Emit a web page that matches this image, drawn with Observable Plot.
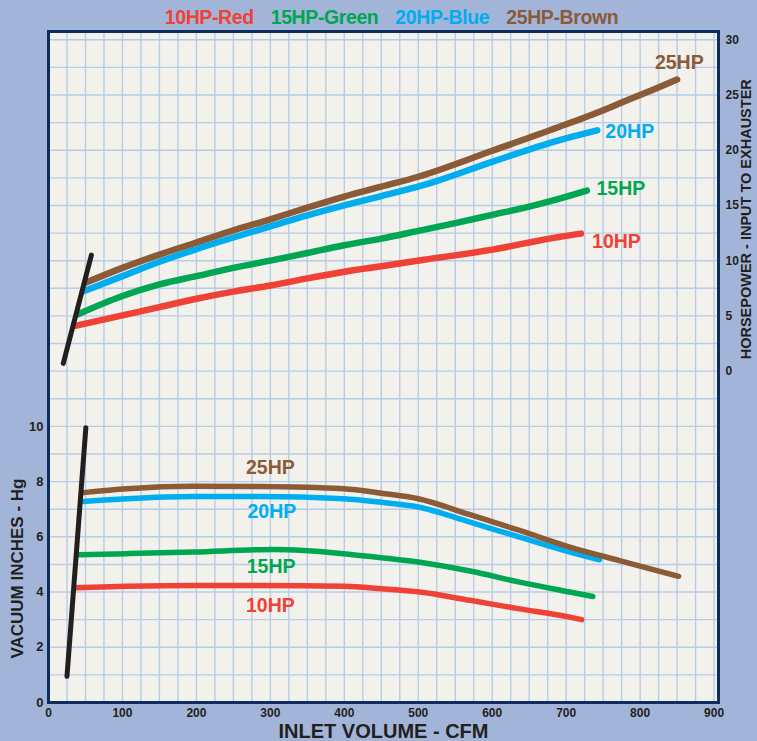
<!DOCTYPE html>
<html>
<head>
<meta charset="utf-8">
<script src="https://cdn.jsdelivr.net/npm/d3@7"></script>
<script src="https://cdn.jsdelivr.net/npm/@observablehq/plot@0.6"></script>
<style>
  html, body { margin: 0; padding: 0; background: #a2b5d9; }
  body { width: 757px; height: 741px; overflow: hidden; font-family: "Liberation Sans", Arial, Helvetica, sans-serif; }
  #legend { height: 28px; box-sizing: border-box; padding-top: 7px; padding-left: 26px; display: flex; justify-content: center; gap: 17px;
            font-size: 19.5px; line-height: 20px; font-weight: bold; letter-spacing: -0.4px; }
  #chart svg text { font-weight: bold; }
</style>
</head>
<body>
<div id="legend"></div>
<div id="chart"></div>
<script>
// ---- series identity ----
const seriesNames  = ["10HP", "15HP", "20HP", "25HP"];
const legendLabels = ["10HP-Red", "15HP-Green", "20HP-Blue", "25HP-Brown"];
const seriesColors = ["#ef4136", "#00a651", "#00aeef", "#8b5a36"];

// ---- upper chart: horsepower vs inlet volume (CFM) ----
const hp10cfm = [36, 100, 150, 200, 250, 300, 350, 400, 450, 510, 600, 690, 720];
const hp10val = [4.1, 5.05, 5.8, 6.55, 7.2, 7.75, 8.4, 9.0, 9.5, 10.1, 11.0, 12.15, 12.45];
const hp15cfm = [40, 100, 150, 200, 250, 300, 350, 400, 450, 500, 550, 600, 650, 690, 728];
const hp15val = [5.15, 6.8, 7.85, 8.6, 9.35, 10.0, 10.7, 11.4, 12.0, 12.7, 13.4, 14.15, 14.9, 15.6, 16.35];
const hp20cfm = [48, 100, 150, 200, 250, 300, 350, 400, 450, 510, 600, 690, 742];
const hp20val = [7.25, 8.6, 9.9, 11.05, 12.1, 13.1, 14.1, 15.0, 15.85, 16.9, 18.95, 20.9, 21.8];
const hp25cfm = [50, 100, 150, 200, 250, 300, 350, 400, 450, 500, 600, 690, 740, 780, 820, 850];
const hp25val = [8.0, 9.35, 10.55, 11.65, 12.75, 13.75, 14.8, 15.8, 16.7, 17.6, 19.95, 22.1, 23.35, 24.45, 25.55, 26.4];

// ---- lower chart: vacuum (inches Hg) vs inlet volume (CFM) ----
const vac10cfm = [36, 106, 196, 286, 399, 450, 502, 570, 637, 705, 721];
const vac10val = [4.16, 4.21, 4.24, 4.24, 4.21, 4.12, 4.0, 3.7, 3.39, 3.09, 3.0];
const vac15cfm = [40, 106, 196, 304, 399, 450, 502, 570, 637, 705, 736];
const vac15val = [5.35, 5.39, 5.45, 5.54, 5.39, 5.24, 5.08, 4.76, 4.36, 4.0, 3.84];
const vac20cfm = [47, 106, 196, 286, 399, 450, 500, 570, 637, 705, 745];
const vac20val = [7.28, 7.38, 7.46, 7.46, 7.38, 7.25, 7.08, 6.53, 5.99, 5.45, 5.17];
const vac25cfm = [47, 106, 196, 286, 399, 450, 500, 570, 637, 705, 772, 852];
const vac25val = [7.6, 7.74, 7.83, 7.82, 7.74, 7.58, 7.38, 6.8, 6.23, 5.63, 5.14, 4.57];

// ---- black reference strokes ----
const hpRefCfm  = [20, 58];
const hpRefVal  = [0.7, 10.5];
const vacRefCfm = [25, 50.5];
const vacRefVal = [0.95, 9.95];

// ---- curve labels ----
const hpLabelCfm  = [735, 741, 753, 820];
const hpLabelVal  = [11.7, 16.5, 21.7, 27.95];
const vacLabelCfm = [300, 301, 302, 300];
const vacLabelVal = [3.52, 4.93, 6.92, 8.51];

// ---- ticks ----
const xTicks   = [0, 100, 200, 300, 400, 500, 600, 700, 800, 900];
const vacTicks = [0, 2, 4, 6, 8, 10];
const hpTicks  = [0, 5, 10, 15, 20, 25, 30];

// horsepower is drawn on the shared vertical scale: 0 HP sits at 12 vacuum units, 2.5 HP per unit
const hpToY = h => 12 + h / 2.5;

// legend
const legend = document.getElementById("legend");
legendLabels.forEach((t, i) => {
  const s = document.createElement("span");
  s.textContent = t; s.style.color = seriesColors[i];
  legend.appendChild(s);
});

const hpSeries = [
  [hp10cfm, hp10val], [hp15cfm, hp15val], [hp20cfm, hp20val], [hp25cfm, hp25val]
].flatMap(([xs, ys], i) => xs.map((x, j) => ({series: seriesNames[i], cfm: x, hp: ys[j]})));
const vacSeries = [
  [vac10cfm, vac10val], [vac15cfm, vac15val], [vac20cfm, vac20val], [vac25cfm, vac25val]
].flatMap(([xs, ys], i) => xs.map((x, j) => ({series: seriesNames[i], cfm: x, vac: ys[j]})));
const hpRef = hpRefCfm.map((x, j) => ({cfm: x, hp: hpRefVal[j]}));
const vacRef = vacRefCfm.map((x, j) => ({cfm: x, vac: vacRefVal[j]}));
const hpLabels = seriesNames.map((n, i) => ({series: n, cfm: hpLabelCfm[i], hp: hpLabelVal[i]}));
const vacLabels = seriesNames.map((n, i) => ({series: n, cfm: vacLabelCfm[i], vac: vacLabelVal[i]}));

const gridX = d3.range(25, 906, 25);
const gridY = d3.range(1, 24.3, 1);

const colorScale = {domain: seriesNames, range: seriesColors};

const chart = Plot.plot({
  width: 757,
  height: 713,
  marginTop: 3,
  marginBottom: 39,
  marginLeft: 48,
  marginRight: 39,
  x: {domain: [0, 906]},
  y: {domain: [0, 24.3]},
  color: colorScale,
  style: {background: "transparent", fontFamily: "'Liberation Sans', Arial, Helvetica, sans-serif", color: "#231f20", overflow: "visible"},
  marks: [
    Plot.frame({fill: "#f3f1ec", stroke: null}),
    Plot.ruleX(gridX, {stroke: "#b7cce6", strokeWidth: 1.4}),
    Plot.ruleY(gridY, {stroke: "#b7cce6", strokeWidth: 1.4}),
    Plot.line(hpSeries, {x: "cfm", y: d => hpToY(d.hp), z: "series", stroke: "series", strokeWidth: 6.5, curve: "monotone-x", strokeLinecap: "round"}),
    Plot.line(vacSeries, {x: "cfm", y: "vac", z: "series", stroke: "series", strokeWidth: 5.5, curve: "monotone-x", strokeLinecap: "round"}),
    Plot.line(hpRef, {x: "cfm", y: d => hpToY(d.hp), stroke: "#231f20", strokeWidth: 5, strokeLinecap: "round"}),
    Plot.line(vacRef, {x: "cfm", y: "vac", stroke: "#231f20", strokeWidth: 5, strokeLinecap: "round"}),
    Plot.text(hpLabels, {x: "cfm", y: d => hpToY(d.hp), text: "series", fill: "series", textAnchor: "start", fontSize: 19.5, fontWeight: "bold", letterSpacing: "-0.5px"}),
    Plot.text(vacLabels, {x: "cfm", y: "vac", text: "series", fill: "series", textAnchor: "middle", fontSize: 19.5, fontWeight: "bold", letterSpacing: "-0.5px"}),
    Plot.axisX(xTicks, {anchor: "bottom", tickSize: 0, tickPadding: 6, fontSize: 12, fontWeight: "bold", label: null}),
    Plot.axisY(vacTicks, {anchor: "left", tickSize: 0, tickPadding: 5, fontSize: 13, fontWeight: "bold", label: null}),
    Plot.axisY(hpTicks.map(hpToY), {anchor: "right", tickSize: 0, tickPadding: 7, fontSize: 12, fontWeight: "bold", label: null,
      tickFormat: v => String(Math.round((v - 12) * 2.5))}),
    Plot.frame({stroke: "#0d2d5e", strokeWidth: 3}),
    Plot.text(["INLET VOLUME - CFM"], {frameAnchor: "bottom", lineAnchor: "middle", dy: 29, fontSize: 20, fontWeight: "bold", fill: "#231f20", letterSpacing: "-0.3px"}),
    Plot.text(["VACUUM INCHES - Hg"], {y: () => 4.85, frameAnchor: "left", textAnchor: "middle", dx: -31, rotate: -90, fontSize: 17, fontWeight: "bold", fill: "#231f20", letterSpacing: "2.3px"}),
    Plot.text(["HORSEPOWER - INPUT TO EXHAUSTER"], {y: () => 17.5, frameAnchor: "right", textAnchor: "middle", dx: 28, rotate: -90, fontSize: 14.5, fontWeight: "bold", fill: "#231f20", letterSpacing: "0.4px"})
  ]
});
document.getElementById("chart").appendChild(chart);
</script>
</body>
</html>
